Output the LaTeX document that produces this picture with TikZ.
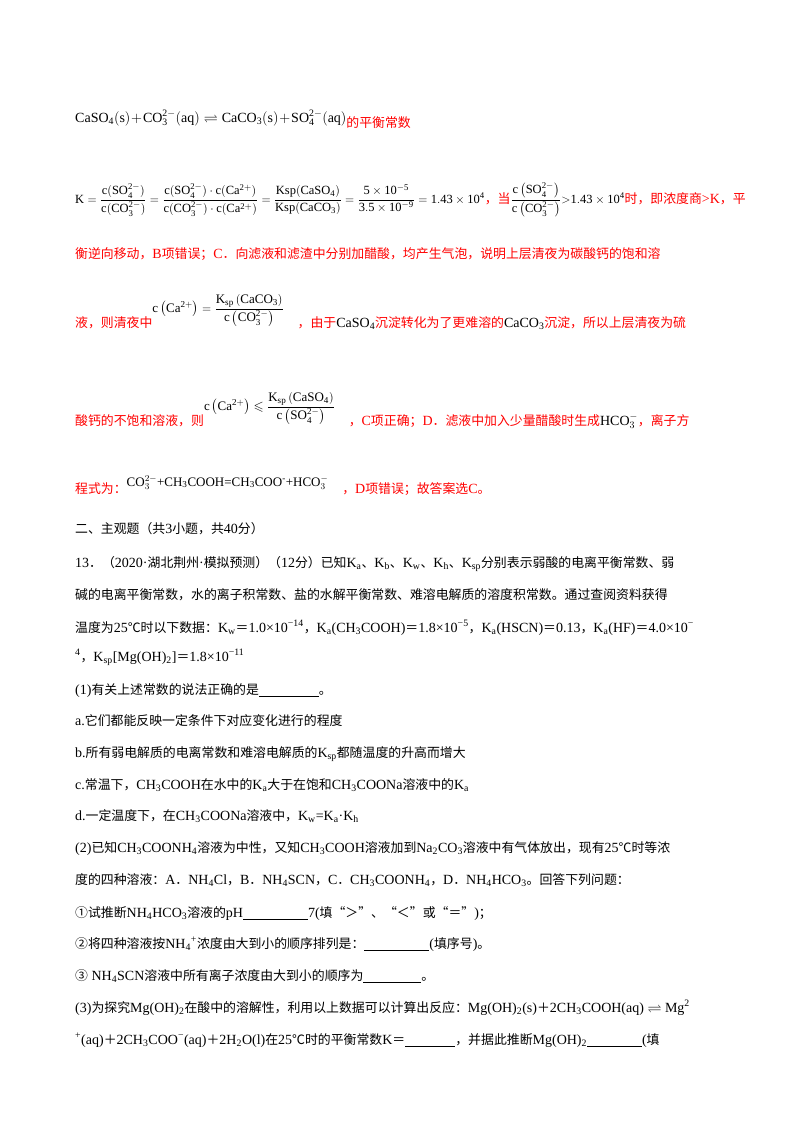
\documentclass[tikz,border=0pt]{standalone}
\usepackage{amsmath,amssymb}
\usepackage{fontspec}
\setmainfont{Liberation Serif}
\setmathrm{Liberation Serif}
\newfontfamily\cjk{Noto Sans CJK SC}[Scale=0.92]
\XeTeXinterchartokenstate=1
\newXeTeXintercharclass\zhclass
\newcount\zc
\def\zhrange#1#2{\zc=#1 \loop \XeTeXcharclass\zc=\zhclass \advance\zc 1 \ifnum\zc<#2 \repeat}
\zhrange{"4E00}{"A000}
\zhrange{"3000}{"3040}
\zhrange{"FF00}{"FFF0}
\zhrange{"2460}{"2500}
\zhrange{"2103}{"2104}
\zhrange{"201C}{"201E}
\XeTeXinterchartoks 0 \zhclass={\cjk}
\XeTeXinterchartoks 4095 \zhclass={\cjk}
\XeTeXinterchartoks \zhclass 0={\rmfamily}
\XeTeXinterchartoks \zhclass 4095={\rmfamily}
\newcommand\dn[1]{\textsubscript{#1}}
\newcommand\up[1]{\textsuperscript{#1}}
\newcommand\io[2]{$^{#2}_{#1}$}
\newcommand\blank[1]{\underline{\hspace{#1}}}
\begin{document}
\begin{tikzpicture}[x=1pt,y=-1pt,
  ln/.style={anchor=base west,inner sep=0pt,font=\fontsize{14}{16}\selectfont},
  rd/.style={ln,text=red}]
\useasboundingbox (0,0) rectangle (800,1132);
\node[ln] (l1) at (75,122) {$\mathrm{CaSO_4(s)\!+\!CO_3^{2-}(aq)\rightleftharpoons CaCO_3(s)\!+\!SO_4^{2-}(aq)}$\raisebox{-5pt}{\textcolor{red}{的平衡常数}}};
\node[ln,font=\fontsize{12.5}{14}\selectfont] (l2) at (75,203) {$\mathrm{K=\dfrac{c(SO_4^{2-})}{c(CO_3^{2-})}=\dfrac{c(SO_4^{2-})\cdot c(Ca^{2+})}{c(CO_3^{2-})\cdot c(Ca^{2+})}=\dfrac{Ksp(CaSO_4)}{Ksp(CaCO_3)}=\dfrac{5\times10^{-5}}{3.5\times10^{-9}}=1.43\times10^{4}}$\textcolor{red}{\fontsize{14}{16}\selectfont ，当}$\mathrm{\dfrac{c\left(SO_4^{2-}\right)}{c\left(CO_3^{2-}\right)}{>}1.43\times10^{4}}$\textcolor{red}{\fontsize{14}{16}\selectfont 时，即浓度商>K，平}};
\node[rd] (l3) at (75,258) {衡逆向移动，B项错误；C．向滤液和滤渣中分别加醋酸，均产生气泡，说明上层清夜为碳酸钙的饱和溶};
\node[rd] (l4) at (75,327) {液，则清夜中\raisebox{15pt}{\color{black}\fontsize{13}{15}\selectfont$\mathrm{c\left(Ca^{2+}\right)=\dfrac{K_{sp}\left(CaCO_3\right)}{c\left(CO_3^{2-}\right)}}$}\quad ，由于{\color{black}CaSO\dn{4}}沉淀转化为了更难溶的{\color{black}CaCO\dn{3}}沉淀，所以上层清夜为硫};
\node[rd] (l5) at (75,425) {酸钙的不饱和溶液，则\raisebox{15pt}{\color{black}\fontsize{13}{15}\selectfont$\mathrm{c\left(Ca^{2+}\right)\leqslant\dfrac{K_{sp}\left(CaSO_4\right)}{c\left(SO_4^{2-}\right)}}$}\quad ，C项正确；D．滤液中加入少量醋酸时生成{\color{black}HCO\io{3}{-}}，离子方};
\node[rd] (l6) at (75,493) {程式为：\raisebox{7pt}{\color{black}\fontsize{13}{15}\selectfont CO\io{3}{2-}+CH\dn{3}COOH=CH\dn{3}COO\up{-}+HCO\io{3}{-}}\quad ，D项错误；故答案选C。};
\node[ln] (q0) at (75,533) {二、主观题（共3小题，共40分）};
\node[ln] (q1) at (75,567) {13．（2020·湖北荆州·模拟预测）（12分）已知K\dn{a}、K\dn{b}、K\dn{w}、K\dn{h}、K\dn{sp}分别表示弱酸的电离平衡常数、弱};
\node[ln] (q2) at (75,599) {碱的电离平衡常数，水的离子积常数、盐的水解平衡常数、难溶电解质的溶度积常数。通过查阅资料获得};
\node[ln] (q3) at (75,632) {温度为25℃时以下数据：K\dn{w}＝1.0×10\up{−14}，K\dn{a}(CH\dn{3}COOH)＝1.8×10\up{−5}，K\dn{a}(HSCN)＝0.13，K\dn{a}(HF)＝4.0×10\up{−}};
\node[ln] (q4) at (75,661) {\up{4}，K\dn{sp}[Mg(OH)\dn{2}]＝1.8×10\up{−11}};
\node[ln] (q5) at (75,694) {(1)有关上述常数的说法正确的是\blank{60pt}。};
\node[ln] (q6) at (75,725) {a.它们都能反映一定条件下对应变化进行的程度};
\node[ln] (q7) at (75,757) {b.所有弱电解质的电离常数和难溶电解质的K\dn{sp}都随温度的升高而增大};
\node[ln] (q8) at (75,789) {c.常温下，CH\dn{3}COOH在水中的K\dn{a}大于在饱和CH\dn{3}COONa溶液中的K\dn{a}};
\node[ln] (q9) at (75,820) {d.一定温度下，在CH\dn{3}COONa溶液中，K\dn{w}=K\dn{a}·K\dn{h}};
\node[ln] (q10) at (75,852) {(2)已知CH\dn{3}COONH\dn{4}溶液为中性，又知CH\dn{3}COOH溶液加到Na\dn{2}CO\dn{3}溶液中有气体放出，现有25℃时等浓};
\node[ln] (q11) at (75,884) {度的四种溶液：A．NH\dn{4}Cl，B．NH\dn{4}SCN，C．CH\dn{3}COONH\dn{4}，D．NH\dn{4}HCO\dn{3}。回答下列问题：};
\node[ln] (q12) at (75,917) {①试推断NH\dn{4}HCO\dn{3}溶液的pH\blank{65pt}7(填“＞”、“＜”或“＝”)；};
\node[ln] (q13) at (75,948) {②将四种溶液按NH\dn{4}\up{+}浓度由大到小的顺序排列是：\blank{65pt}(填序号)。};
\node[ln] (q14) at (75,980) {③ NH\dn{4}SCN溶液中所有离子浓度由大到小的顺序为\blank{58pt}。};
\node[ln] (q15) at (75,1012) {(3)为探究Mg(OH)\dn{2}在酸中的溶解性，利用以上数据可以计算出反应：Mg(OH)\dn{2}(s)＋2CH\dn{3}COOH(aq) $\rightleftharpoons$ Mg\up{2}};
\node[ln] (q16) at (75,1044) {\up{+}(aq)＋2CH\dn{3}COO\up{−}(aq)＋2H\dn{2}O(l)在25℃时的平衡常数K＝\blank{50pt}，并据此推断Mg(OH)\dn{2}\blank{55pt}(填};
\end{tikzpicture}
\end{document}
